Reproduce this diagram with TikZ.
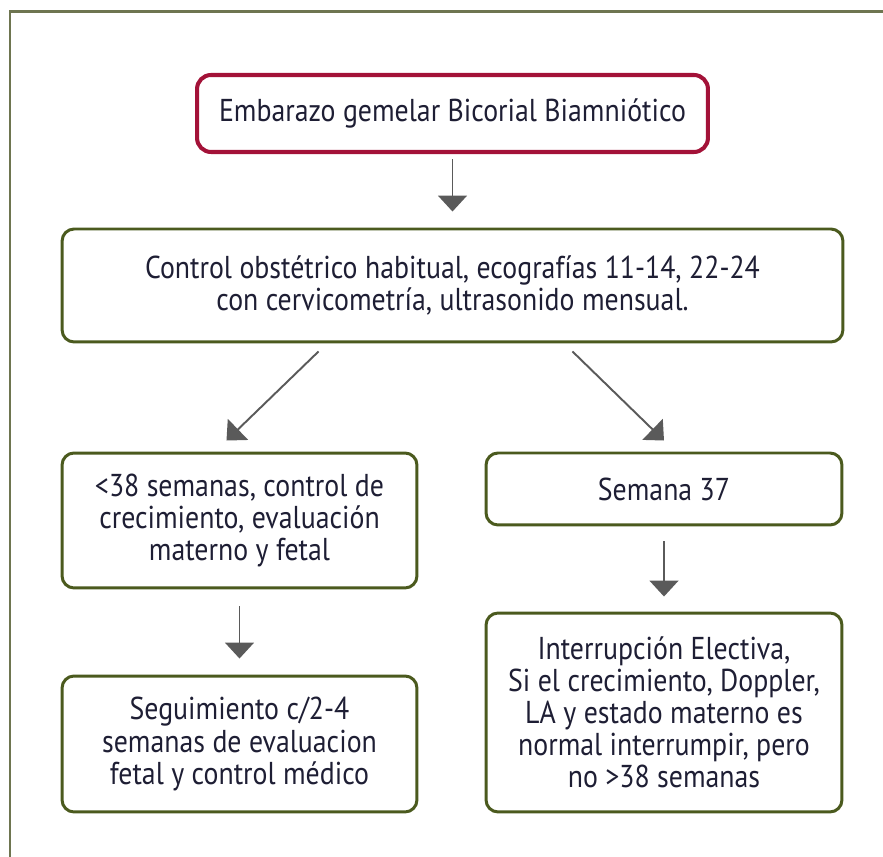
\documentclass[tikz,border=0pt]{standalone}
\usepackage{fontspec}
\setmainfont{PT Sans}[FakeStretch=0.88]
\usetikzlibrary{arrows.meta}
\definecolor{vino}{HTML}{A31238}
\definecolor{oliva}{HTML}{4B5A1E}
\definecolor{marco}{HTML}{6E7550}
\definecolor{flecha}{HTML}{5A5A5A}
\definecolor{tinta}{HTML}{1E1E34}
\begin{document}
\begin{tikzpicture}[x=0.02cm,y=-0.02cm,
  caja/.style={draw=oliva,line width=1.7pt,rounded corners=0.24cm,align=center,inner sep=0pt,
    text=tinta,font=\fontsize{18}{18.3}\selectfont},
  inicio/.style={caja,draw=vino,line width=2.3pt,rounded corners=0.28cm},
  paso/.style={draw=flecha,line width=1.1pt,-{Triangle[width=0.58cm,length=0.32cm]}}]
\useasboundingbox (0,0) rectangle (883,857);
\draw[marco,line width=1.7pt] (883,12) -- (10,12) -- (10,857);
\node[inicio,minimum width=10.22cm,minimum height=1.54cm] (emb) at (452.5,113.5) {Embarazo gemelar Bicorial Biamniótico};
\node[caja,minimum width=15.62cm,minimum height=2.26cm] (ctrl) at (452.5,285.5) {Control obstétrico habitual, ecografías 11-14, 22-24\\con cervicometría, ultrasonido mensual.};
\node[caja,minimum width=7.1cm,minimum height=2.7cm] (menor) at (239.5,520.5) {<38 semanas, control de\\crecimiento, evaluación\\materno y fetal};
\node[caja,minimum width=7.12cm,minimum height=1.44cm] (sem) at (664,489) {Semana 37};
\node[caja,minimum width=7.1cm,minimum height=2.72cm] (seg) at (239.5,744) {Seguimiento c/2-4\\semanas de evaluacion\\fetal y control médico};
\node[caja,minimum width=7.12cm,minimum height=3.98cm] (interr) at (664,712.5) {Interrupción Electiva,\\Si el crecimiento, Doppler,\\LA y estado materno es\\normal interrumpir, pero\\no >38 semanas};
\draw[paso,shorten >=0.32cm,shorten <=0.1cm] (emb) -- (ctrl);
\draw[paso] ([xshift=-2.68cm,yshift=-0.16cm]ctrl.south) -- ([xshift=-0.26cm,yshift=0.22cm]menor.north);
\draw[paso] ([xshift=2.4cm,yshift=-0.16cm]ctrl.south) -- ([xshift=0cm,yshift=0.22cm]sem.north);
\draw[paso,shorten >=0.32cm,shorten <=0.34cm] (menor) -- (seg);
\draw[paso,shorten >=0.3cm,shorten <=0.3cm] (sem) -- (interr);
\end{tikzpicture}
\end{document}
